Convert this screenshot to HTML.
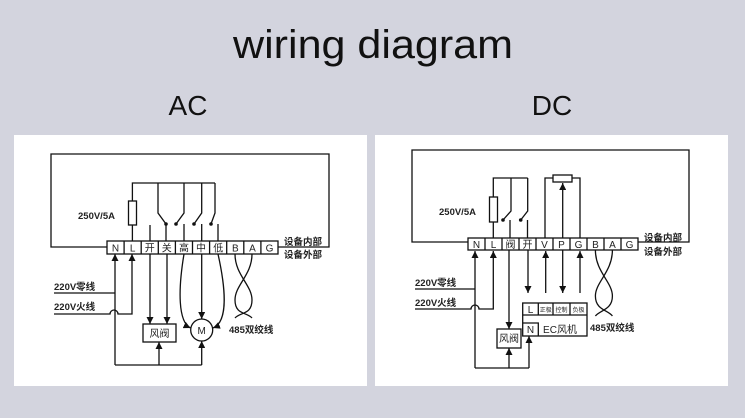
<!DOCTYPE html>
<html><head><meta charset="utf-8"><style>
html,body{margin:0;padding:0;background:#d3d4de;width:745px;height:418px;overflow:hidden}
svg{display:block}
.t{font-family:"Liberation Sans","Noto Sans CJK SC",sans-serif;fill:#111}
.l{font-family:"Liberation Sans","Noto Sans CJK SC",sans-serif;font-size:9.5px;font-weight:bold;fill:#222}
.c{font-family:"Liberation Sans","Noto Sans CJK SC",sans-serif;font-size:10px;fill:#222;text-anchor:middle}
</style></head><body>
<svg width="745" height="418" viewBox="0 0 745 418" xmlns="http://www.w3.org/2000/svg">
<defs>
<marker id="a" viewBox="0 0 10 10" refX="10" refY="5" markerWidth="7" markerHeight="7" orient="auto" markerUnits="userSpaceOnUse"><path d="M0,0 L10,5 L0,10 z" fill="#111"/></marker>
</defs>
<rect width="745" height="418" fill="#d3d4de"/>
<text class="t" x="373" y="58" font-size="40" text-anchor="middle" textLength="280" lengthAdjust="spacingAndGlyphs">wiring diagram</text>
<text class="t" x="188" y="115" font-size="28" text-anchor="middle">AC</text>
<text class="t" x="552" y="115" font-size="28" text-anchor="middle">DC</text>
<rect x="14" y="135" width="353" height="251" fill="#fff"/>
<rect x="375" y="135" width="353" height="251" fill="#fff"/>

<!-- AC -->
<g stroke="#111" stroke-width="1.3" fill="none">
<polyline points="107,247 51,247 51,154 329,154 329,247 278,247"/>
<rect x="107" y="241" width="171" height="13" fill="#fff"/>
<path d="M124.1,241v13M141.2,241v13M158.3,241v13M175.4,241v13M192.5,241v13M209.6,241v13M226.7,241v13M243.8,241v13M260.9,241v13"/>
<rect x="128.5" y="201" width="8" height="24" fill="#fff"/>
<path d="M132.4,241V225M132.4,201V183H215"/>
<path d="M158,183V213L166,224M184,183V213L176,224M201.7,183V213L194,224M215,183V213L211,224"/>
<path d="M150,225V241M166,224V241M184,224V241M201.7,224V241M218,224V241"/>
<path d="M115,365V254" marker-end="url(#a)"/>
<path d="M54,314H110a4,4 0 0 1 8,0H132V254" marker-end="url(#a)"/>
<path d="M54,293H115"/>
<path d="M150,254V324" marker-end="url(#a)"/>
<path d="M167,254V324" marker-end="url(#a)"/>
<rect x="143" y="324" width="33" height="18" fill="#fff"/>
<path d="M115,365H201.7"/>
<path d="M159,365V342" marker-end="url(#a)"/>
<path d="M201.7,365V341" marker-end="url(#a)"/>
<circle cx="201.7" cy="330" r="11" fill="#fff"/>
<path d="M201.7,254V319" marker-end="url(#a)"/>
<path d="M184,254C178,290 178,322 190.5,328" marker-end="url(#a)"/>
<path d="M218,254C226,290 228,322 213,328" marker-end="url(#a)"/>
<path d="M235,254C235,275 252,285 252,300 S240,312 235,318"/>
<path d="M252,254C252,275 235,285 235,300 S247,312 252,318"/>
</g>
<g class="c">
<text x="115.5" y="251.5">N</text><text x="132.6" y="251.5">L</text><text x="149.7" y="251.5">开</text><text x="166.8" y="251.5">关</text><text x="184" y="251.5">高</text><text x="201" y="251.5">中</text><text x="218.2" y="251.5">低</text><text x="235.3" y="251.5">B</text><text x="252.4" y="251.5">A</text><text x="269.5" y="251.5">G</text>
<text x="159.5" y="337">风阀</text><text x="201.7" y="334">M</text>
</g>
<g class="l">
<text x="78" y="219">250V/5A</text>
<text x="284" y="245">设备内部</text><text x="284" y="258">设备外部</text>
<text x="54" y="290">220V零线</text><text x="54" y="310">220V火线</text>
<text x="229" y="333">485双绞线</text>
</g>
<g fill="#111"><circle cx="166" cy="224" r="1.8"/><circle cx="176" cy="224" r="1.8"/><circle cx="194" cy="224" r="1.8"/><circle cx="211" cy="224" r="1.8"/></g>

<!-- DC -->
<g stroke="#111" stroke-width="1.3" fill="none">
<polyline points="468,242 412,242 412,150 689,150 689,242 638,242"/>
<rect x="468" y="238" width="170" height="12" fill="#fff"/>
<path d="M485,238v12M502,238v12M519,238v12M536,238v12M553,238v12M570,238v12M587,238v12M604,238v12M621,238v12"/>
<rect x="489.5" y="197" width="8" height="25" fill="#fff"/>
<path d="M493.3,238V222M493.3,197V178H527.7"/>
<path d="M511,178V211L503,220M527.7,178V211L520.7,220"/>
<path d="M510,220V238M527.5,220V238"/>
<path d="M545,238V178H553M572,178H580V238"/>
<rect x="553" y="175" width="19" height="7" fill="#fff"/>
<path d="M562.7,238V183" marker-end="url(#a)"/>
<path d="M475,368V251" marker-end="url(#a)"/>
<path d="M415,309H471a4,4 0 0 1 8,0H493.3V251" marker-end="url(#a)"/>
<path d="M415,289H475"/>
<path d="M509,250V329" marker-end="url(#a)"/>
<rect x="497" y="329" width="24" height="19" fill="#fff"/>
<path d="M475,368H529"/>
<path d="M509,368V348" marker-end="url(#a)"/>
<path d="M529,368V336" marker-end="url(#a)"/>
<path d="M528,250V293" marker-end="url(#a)"/>
<path d="M545.7,293V251" marker-end="url(#a)"/>
<path d="M562.7,250V293" marker-end="url(#a)"/>
<path d="M580,293V251" marker-end="url(#a)"/>
<rect x="522.7" y="303" width="64.3" height="33" fill="#fff"/>
<path d="M522.7,315H587M538.3,303V315M553,303V315M570,303V315M522.7,323H538.3V336"/>
<path d="M595.4,250C595.4,272 612.4,282 612.4,296 S600,310 595.4,316"/>
<path d="M612.4,250C612.4,272 595.4,282 595.4,296 S608,310 612.4,316"/>
</g>
<g class="c">
<text x="476.5" y="248">N</text><text x="493.5" y="248">L</text><text x="510.5" y="248">阀</text><text x="527.5" y="248">开</text><text x="544.5" y="248">V</text><text x="561.5" y="248">P</text><text x="578.5" y="248">G</text><text x="595.5" y="248">B</text><text x="612.5" y="248">A</text><text x="629.5" y="248">G</text>
<text x="509" y="342">风阀</text><text x="530.5" y="313">L</text><text x="530.5" y="333">N</text>
<text x="545.7" y="312" font-size="6">正极</text><text x="561.5" y="312" font-size="6">控制</text><text x="578.5" y="312" font-size="6">负极</text>
<text x="560" y="333">EC风机</text>
</g>
<g class="l">
<text x="439" y="215">250V/5A</text>
<text x="644" y="241">设备内部</text><text x="644" y="255">设备外部</text>
<text x="415" y="286">220V零线</text><text x="415" y="306">220V火线</text>
<text x="590" y="331">485双绞线</text>
</g>
<g fill="#111"><circle cx="503" cy="220" r="1.8"/><circle cx="520.7" cy="220" r="1.8"/></g>
</svg>
</body></html>
